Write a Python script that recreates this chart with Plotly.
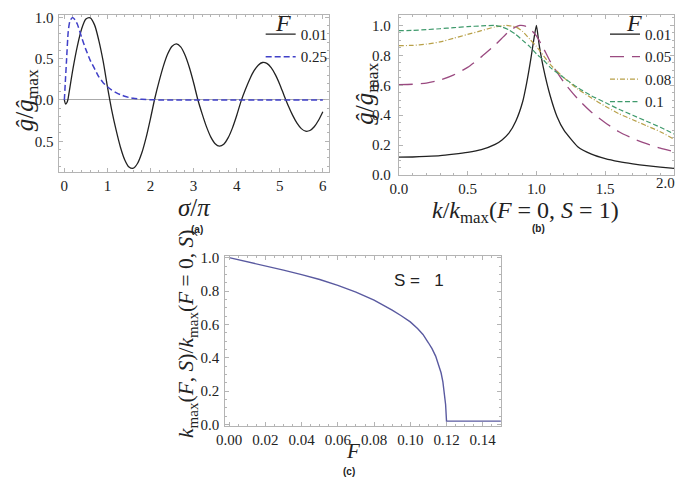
import plotly.graph_objects as go

# ---------------- Panel (a) data ----------------
sigma_a = [0.0, 0.03, 0.06, 0.08, 0.1, 0.2, 0.3, 0.4, 0.5, 0.6, 0.7, 0.8, 0.9, 1.0,
           1.1, 1.2, 1.3, 1.4, 1.5, 1.6, 1.7, 1.8, 1.9, 2.0,
           2.1, 2.2, 2.3, 2.4, 2.5, 2.6, 2.7, 2.8, 2.9, 3.0,
           3.1, 3.2, 3.3, 3.4, 3.5, 3.6, 3.7, 3.8, 3.9, 4.0,
           4.1, 4.2, 4.3, 4.4, 4.5, 4.6, 4.7, 4.8, 4.9, 5.0,
           5.1, 5.2, 5.3, 5.4, 5.5, 5.6, 5.7, 5.8, 5.9, 6.0]
g_a_001 = [0.0, -0.05, -0.03, 0.0, 0.06, 0.38, 0.65, 0.86, 0.98, 0.995, 0.91, 0.72, 0.47, 0.16,
           -0.125, -0.363, -0.569, -0.723, -0.812, -0.827, -0.767, -0.637, -0.45, -0.222,
           0.021, 0.228, 0.413, 0.559, 0.651, 0.68, 0.644, 0.546, 0.397, 0.209,
           0.0, -0.171, -0.326, -0.45, -0.53, -0.56, -0.536, -0.46, -0.341, -0.188,
           -0.017, 0.123, 0.249, 0.352, 0.422, 0.454, 0.443, 0.392, 0.304, 0.189,
           0.055, -0.073, -0.187, -0.281, -0.347, -0.378, -0.37, -0.325, -0.246, -0.143]

sigma_b = [0.0, 0.02, 0.05, 0.09, 0.13, 0.19, 0.25, 0.3, 0.4, 0.5, 0.6, 0.7, 0.8, 0.9, 1.0,
           1.1, 1.2, 1.3, 1.4, 1.5, 1.6, 1.8, 2.0, 2.3, 2.6, 3.0, 3.5, 4.0, 4.5, 5.0, 5.5, 6.0]
g_a_025 = [0.0, 0.2, 0.48, 0.83, 0.96, 1.0, 0.97, 0.92, 0.76, 0.61, 0.48, 0.38, 0.28, 0.21, 0.16,
           0.12, 0.09, 0.065, 0.045, 0.03, 0.02, 0.008, 0.003, 0.0, 0.0, 0.0, 0.0, 0.0, 0.0, 0.0, 0.0, 0.0]

# ---------------- Panel (b) data ----------------
k_001 = [0.0, 0.1, 0.2, 0.3, 0.4, 0.5, 0.6, 0.7, 0.75, 0.8, 0.85, 0.9, 0.93, 0.96, 0.98, 1.0,
         1.02, 1.05, 1.1, 1.15, 1.2, 1.3, 1.4, 1.5, 1.6, 1.7, 1.8, 1.9, 2.0]
g_b_001 = [0.12, 0.121, 0.125, 0.13, 0.14, 0.152, 0.17, 0.205, 0.235, 0.28, 0.36, 0.49, 0.62, 0.78, 0.9, 1.0,
           0.87, 0.72, 0.53, 0.39, 0.3, 0.19, 0.14, 0.11, 0.09, 0.075, 0.063, 0.053, 0.045]

k_005 = [0.0, 0.1, 0.2, 0.3, 0.4, 0.5, 0.6, 0.7, 0.8, 0.85, 0.88, 0.92, 0.96, 1.0, 1.05,
         1.1, 1.2, 1.3, 1.4, 1.5, 1.6, 1.7, 1.8, 1.9, 2.0]
g_b_005 = [0.605, 0.607, 0.615, 0.635, 0.67, 0.72, 0.79, 0.87, 0.96, 0.99, 1.0, 0.995, 0.97, 0.93, 0.85,
           0.76, 0.62, 0.51, 0.42, 0.35, 0.29, 0.245, 0.21, 0.18, 0.157]

k_008 = [0.0, 0.1, 0.2, 0.3, 0.4, 0.5, 0.6, 0.7, 0.78, 0.85, 0.9, 0.95, 1.0, 1.05,
         1.1, 1.2, 1.3, 1.4, 1.5, 1.6, 1.7, 1.8, 1.9, 2.0]
g_b_008 = [0.865, 0.867, 0.875, 0.89, 0.915, 0.94, 0.965, 0.99, 1.0, 0.99, 0.96, 0.91, 0.86, 0.8,
           0.74, 0.65, 0.575, 0.515, 0.46, 0.41, 0.37, 0.33, 0.29, 0.24]

k_010 = [0.0, 0.1, 0.2, 0.3, 0.4, 0.5, 0.6, 0.7, 0.75, 0.8, 0.85, 0.9, 0.95, 1.0, 1.05,
         1.1, 1.2, 1.3, 1.4, 1.5, 1.6, 1.7, 1.8, 1.9, 2.0]
g_b_010 = [0.965, 0.967, 0.972, 0.978, 0.985, 0.992, 0.997, 1.0, 0.99, 0.97, 0.94, 0.9, 0.86, 0.81, 0.77,
           0.72, 0.65, 0.585, 0.53, 0.485, 0.44, 0.4, 0.36, 0.32, 0.275]

# ---------------- Panel (c) data ----------------
F_c = [0.0, 0.01, 0.02, 0.03, 0.04, 0.05, 0.06, 0.07, 0.08, 0.085, 0.09, 0.095, 0.1, 0.104,
       0.107, 0.11, 0.112, 0.114, 0.116, 0.117, 0.118, 0.119, 0.1195, 0.1198, 0.12, 0.15]
kmax_c = [1.0, 0.976, 0.951, 0.925, 0.898, 0.869, 0.834, 0.794, 0.745, 0.716, 0.685, 0.652, 0.615, 0.575,
          0.54, 0.49, 0.455, 0.41, 0.35, 0.31, 0.255, 0.18, 0.12, 0.06, 0.02, 0.02]

b_x_ticks = [0.0, 0.5, 1.0, 1.5, 2.0]
b_x_labels = ["0.0", "0.5", "1.0", "1.5", ""]

# The page keeps the browser's default 8px body margin; the figure is sized so that
# figure + margins fill the 685x491 window exactly.  Layout positions below are given
# in window pixels and converted to figure fractions.
PAGE_W, PAGE_H, OFF = 685, 491, 8
W, H = PAGE_W - 2 * OFF, PAGE_H - 2 * OFF
SERIF = "Liberation Serif, Times New Roman, serif"
SANS = "Liberation Sans, Arial, sans-serif"
FRAME = "#b4b4b4"

def px_x(p):
    return (p - OFF) / W

def px_y(p):
    return 1 - (p - OFF) / H

fig = go.Figure()

# (a)
fig.add_trace(go.Scatter(x=sigma_a, y=g_a_001, mode="lines", name="0.01",
                         line=dict(color="#222222", width=1.3, shape="spline", smoothing=0.8),
                         xaxis="x", yaxis="y", legend="legend"))
fig.add_trace(go.Scatter(x=sigma_b, y=g_a_025, mode="lines", name="0.25",
                         line=dict(color="#4040c8", width=1.5, dash="6px,3px", shape="spline", smoothing=0.6),
                         xaxis="x", yaxis="y", legend="legend"))
# (b)
fig.add_trace(go.Scatter(x=k_001, y=g_b_001, mode="lines", name="0.01",
                         line=dict(color="#222222", width=1.3, shape="spline", smoothing=0.5),
                         xaxis="x2", yaxis="y2", legend="legend2"))
fig.add_trace(go.Scatter(x=k_005, y=g_b_005, mode="lines", name="0.05",
                         line=dict(color="#9a4a80", width=1.3, dash="14px,8px", shape="spline", smoothing=0.6),
                         xaxis="x2", yaxis="y2", legend="legend2"))
fig.add_trace(go.Scatter(x=k_008, y=g_b_008, mode="lines", name="0.08",
                         line=dict(color="#b8a048", width=1.2, dash="5px,2px,1px,2px", shape="spline", smoothing=0.6),
                         xaxis="x2", yaxis="y2", legend="legend2"))
fig.add_trace(go.Scatter(x=k_010, y=g_b_010, mode="lines", name="0.1",
                         line=dict(color="#3f9a6c", width=1.2, dash="5px,2.5px", shape="spline", smoothing=0.6),
                         xaxis="x2", yaxis="y2", legend="legend2"))
# (c)
fig.add_trace(go.Scatter(x=F_c, y=kmax_c, mode="lines", name="S=1", showlegend=False,
                         line=dict(color="#5a5aa0", width=1.4),
                         xaxis="x3", yaxis="y3"))

def axis(domain, rng, dtick, minor_dtick, fmt, anchor, **kw):
    d = dict(domain=domain, range=rng, anchor=anchor, dtick=dtick, tick0=0,
             tickformat=fmt, showgrid=False, zeroline=False,
             showline=True, linecolor=FRAME, linewidth=1, mirror="allticks",
             ticks="inside", ticklen=4, tickcolor=FRAME, tickwidth=1,
             minor=dict(ticks="inside", ticklen=2, dtick=minor_dtick, tickcolor=FRAME, showgrid=False),
             tickfont=dict(family=SERIF, size=15, color="#222222"))
    d.update(kw)
    return d

legend_common = dict(xanchor="left", yanchor="top", bgcolor="rgba(0,0,0,0)",
                     font=dict(family=SERIF, size=15, color="#222222"),
                     itemwidth=30, tracegroupgap=0)

fig.update_layout(
    width=W, height=H, margin=dict(l=0, r=0, t=0, b=0),
    paper_bgcolor="white", plot_bgcolor="white",
    showlegend=True,
    xaxis=axis([px_x(51), px_x(324)], [-0.115, 6.137], 1, 0.2, "d", "y"),
    yaxis=axis([px_y(171), px_y(9)], [-0.875, 1.03], 0.5, 0.1, ".1f", "x",
               tickmode="array", tickvals=[-0.5, 0, 0.5, 1.0], ticktext=["0.5", "0.0", "0.5", "1.0"],
               zeroline=True, zerolinecolor="#aaaaaa", zerolinewidth=1, ticklabelstandoff=2),
    xaxis2=axis([px_x(395), px_x(674)], [0, 2.0], 0.5, 0.1, ".1f", "y2",
                tickmode="array", tickvals=b_x_ticks, ticktext=b_x_labels),
    yaxis2=axis([px_y(174), px_y(9)], [0, 1.07], 0.2, 0.05, ".1f", "x2", ticklabelstandoff=4),
    xaxis3=axis([px_x(219), px_x(499)], [-0.0022, 0.1503], 0.02, 0.005, ".2f", "y3"),
    yaxis3=axis([px_y(432), px_y(257)], [-0.006, 1.012], 0.2, 0.05, ".1f", "x3", ticklabelstandoff=2),
    legend=dict(x=px_x(255), y=px_y(12), **legend_common),
    legend2=dict(x=px_x(604), y=px_y(12), **legend_common),
)

ann = []
def text(x, y, s, size, family=SERIF, angle=0, bold=False, xanchor="center"):
    ann.append(dict(x=px_x(x), y=px_y(y), xref="paper", yref="paper", text=("<b>%s</b>" % s) if bold else s,
                    showarrow=False, textangle=angle, xanchor=xanchor, yanchor="middle",
                    font=dict(family=family, size=size, color="#222222")))

text(278, 17, "<i>F</i>", 24)
text(633, 17, "<i>F</i>", 24)

# last tick label of panel (b), kept inside the page
text(PAGE_W - OFF, 182, "%.1f" % b_x_ticks[-1], 15, xanchor="right")

text(17, 97, "<i>ĝ</i>/<i>ĝ</i><sub>max</sub>", 25, angle=-90)
text(188, 207, "<i>σ</i>/<i>π</i>", 25)
text(190, 230, "(a)", 10, family=SANS, bold=True)

text(362, 90, "<i>ĝ</i>/<i>ĝ</i><sub>max</sub>", 25, angle=-90)
text(523, 212, "<i>k</i>/<i>k</i><sub>max</sub>(<i>F</i> = 0, <i>S</i> = 1)", 24)
text(537, 229, "(b)", 10, family=SANS, bold=True)

text(181, 338, "<i>k</i><sub>max</sub>(<i>F</i>, <i>S</i>)/<i>k</i><sub>max</sub>(<i>F</i> = 0, <i>S</i>)", 21.5, angle=-90)
text(349, 458, "<i>F</i>", 21)
text(345, 479, "(c)", 10, family=SANS, bold=True)
text(415, 283, "S =   1", 17, family=SANS)

fig.update_layout(annotations=ann)
fig.write_html("out.html", config={"displayModeBar": False, "staticPlot": True})
